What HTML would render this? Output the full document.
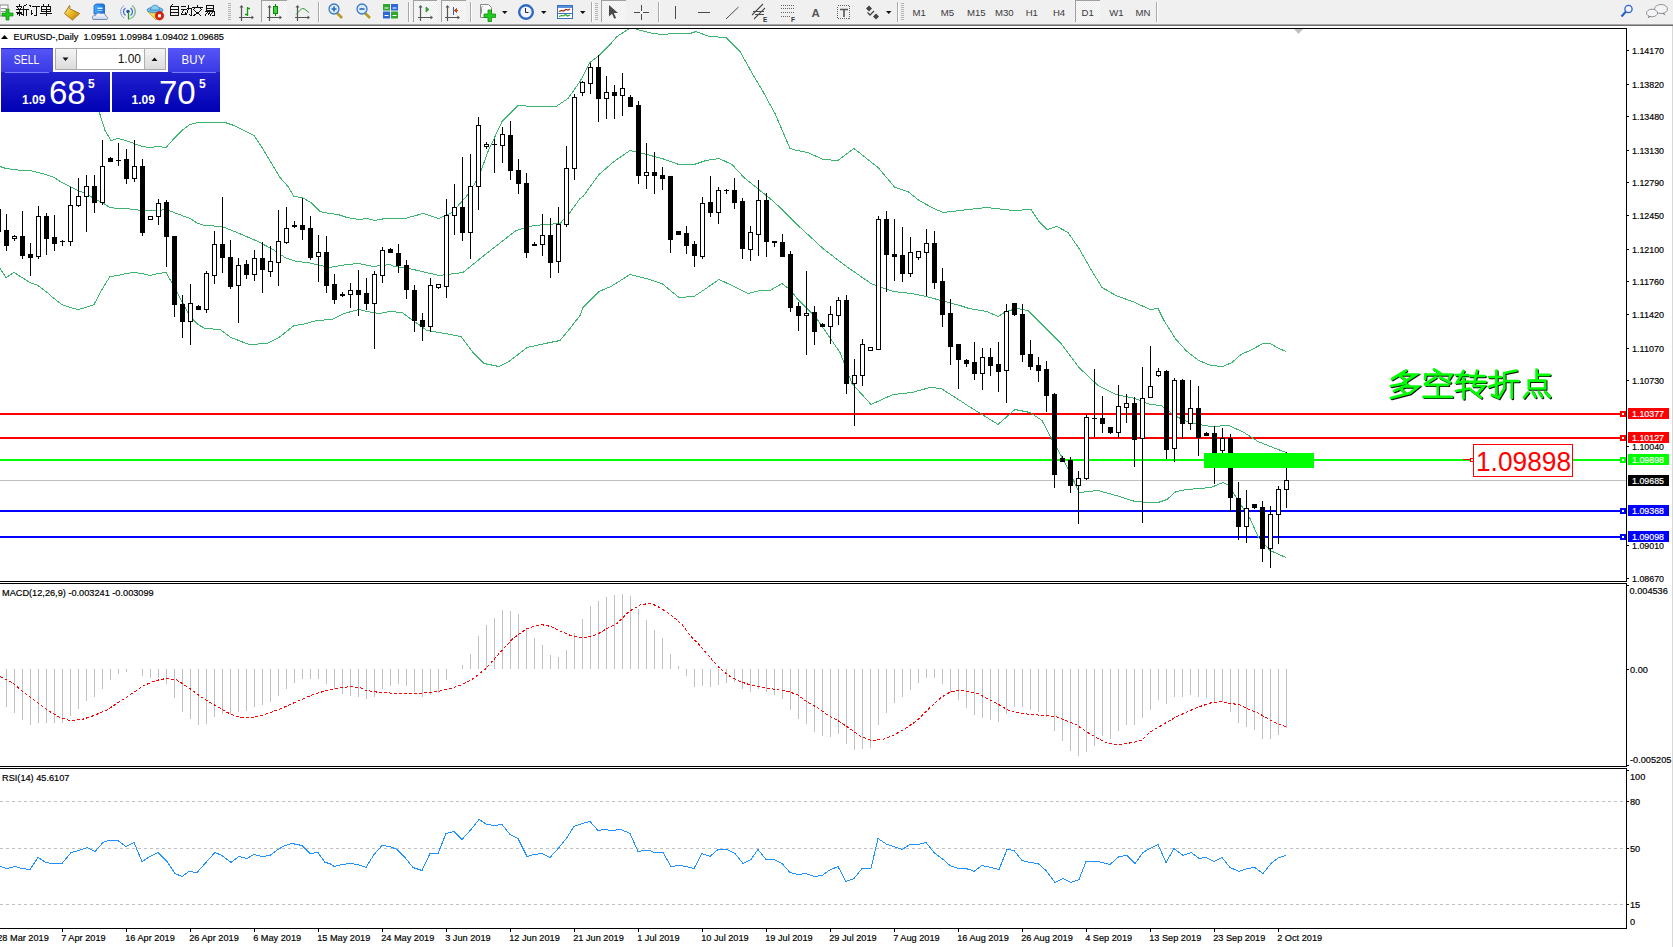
<!DOCTYPE html><html><head><meta charset="utf-8"><title>MT4 EURUSD Daily</title><style>html,body{margin:0;padding:0;background:#fff;overflow:hidden;width:1673px;height:947px}svg{display:block}text[font-size="9.2"]{stroke:currentColor;stroke-width:0.18px}</style></head><body><svg width="1673" height="947" viewBox="0 0 1673 947">
<defs><clipPath id="cm"><rect x="0" y="29" width="1626" height="552"/></clipPath><clipPath id="cd"><rect x="0" y="584" width="1626" height="182"/></clipPath><clipPath id="cr"><rect x="0" y="769" width="1626" height="159"/></clipPath><linearGradient id="gsell" x1="0" y1="0" x2="0" y2="1"><stop offset="0" stop-color="#5555f6"/><stop offset="1" stop-color="#3a3ae6"/></linearGradient><linearGradient id="gbody" x1="0" y1="0" x2="0" y2="1"><stop offset="0" stop-color="#3535e0"/><stop offset="1" stop-color="#0000b4"/></linearGradient><linearGradient id="gbtn" x1="0" y1="0" x2="0" y2="1"><stop offset="0" stop-color="#f4f4f4"/><stop offset="1" stop-color="#dcdcdc"/></linearGradient><pattern id="chk" width="2" height="2" patternUnits="userSpaceOnUse"><rect width="2" height="2" fill="#fbfbfb"/><rect width="1" height="1" fill="#ececec"/><rect x="1" y="1" width="1" height="1" fill="#ececec"/></pattern></defs>
<rect x="0" y="0" width="1673" height="947" fill="#ffffff"/>
<g id="toolbar">
<rect x="0" y="0" width="1673" height="24" fill="#f0f0f0"/>
<rect x="0" y="24" width="1673" height="1" fill="#a5a5a5"/>
<rect x="0" y="25" width="1673" height="1" fill="#6e6e6e"/>
<rect x="0" y="5" width="8" height="11" fill="#ffffff" stroke="#8a8a8a" stroke-width="1"/>
<rect x="1" y="8" width="5" height="1" fill="#9a9a9a"/><rect x="1" y="11" width="5" height="1" fill="#9a9a9a"/>
<path d="M6 9h3v4h4v3h-4v4h-3v-4h-4v-3h4z" fill="#1ec81e" stroke="#0a8a0a" stroke-width="0.7"/>
<path d="M19.5 4v2M16 6.5h6M17.5 7.5l1 1.5M21.5 7.5l-1 1.5M15.5 9.5h7M19.5 9.5v6.5M16 12.5h6M18.5 13l-2 2.5M20.5 13l2 2M27 4.5l-4 2v9.5M23 9.5h5.5M26.5 9.5v6.5" fill="none" stroke="#111" stroke-width="1" shape-rendering="crispEdges"/>
<path d="M29.5 5l1.5 1.5M31 9.5v5.5l1.5-1.5M32 6.5h7.5M36.5 6.5v9h-2.5" fill="none" stroke="#111" stroke-width="1" shape-rendering="crispEdges"/>
<path d="M43 4l1 1.5M49 4l-1 1.5M41.5 6.5h9v5h-9zM41.5 9h9M46 6.5v9.5M40 13.5h12" fill="none" stroke="#111" stroke-width="1" shape-rendering="crispEdges"/>
<defs><linearGradient id="ggold" x1="0" y1="0" x2="1" y2="1"><stop offset="0" stop-color="#fff0a0"/><stop offset="0.5" stop-color="#e8b820"/><stop offset="1" stop-color="#b07010"/></linearGradient><linearGradient id="gcloud" x1="0" y1="0" x2="0" y2="1"><stop offset="0" stop-color="#ffffff"/><stop offset="1" stop-color="#c8d4e8"/></linearGradient><linearGradient id="gdoc" x1="0" y1="0" x2="1" y2="0"><stop offset="0" stop-color="#40a8ff"/><stop offset="1" stop-color="#1a70e0"/></linearGradient></defs>
<path d="M69.5 5.5c1 1.5 0 3 0 3l10 5-7 6.5-8-6.5z" fill="url(#ggold)" stroke="#9a6a10" stroke-width="0.9"/>
<path d="M65.5 14.5l7 5.5 7-6" fill="none" stroke="#c89a40" stroke-width="1"/>
<path d="M94 5.5l2-1.5h7.5l1 1v9h-10.5z" fill="url(#gdoc)" stroke="#1a5ab8" stroke-width="0.8"/>
<rect x="97.5" y="7.5" width="5" height="1.5" fill="#e0f0ff"/><rect x="97.5" y="10" width="5" height="1" fill="#9ad0ff"/>
<path d="M93 19.5c-1.5-2.5 0-4.5 2.5-4 0.5-2.5 4-3.5 5.5-1.5 1.5-1.5 4.5-0.5 4.5 2 2 0 3 2.5 1.5 3.5z" fill="url(#gcloud)" stroke="#6a84b0" stroke-width="0.9"/>
<path d="M124 5.5a7.5 7.5 0 0 0 0 12.5M132 5.5a7.5 7.5 0 0 1 0 12.5" fill="none" stroke="#7a9ad8" stroke-width="1"/>
<path d="M125.5 8a4.5 4.5 0 0 0 0 7.5M130.5 8a4.5 4.5 0 0 1 0 7.5" fill="none" stroke="#3a6ad0" stroke-width="1.2"/>
<path d="M132 5.5a7.5 7.5 0 0 1 -3.5 13.5" fill="none" stroke="#8ac08a" stroke-width="1.4" opacity="0.8"/>
<circle cx="128" cy="11.5" r="1.7" fill="#1a48c0"/>
<path d="M128.5 12v7.5" stroke="#20a020" stroke-width="1.3"/>
<path d="M147.5 11.5h15l-6.5 8.5z" fill="#f4dc50" stroke="#c8a030" stroke-width="0.8"/>
<ellipse cx="155" cy="10" rx="8" ry="2.8" fill="#70b8e8" stroke="#3a88b8" stroke-width="0.8"/>
<path d="M150.5 10c0-6.5 9-6.5 9 0z" fill="#8ccff4" stroke="#3a88b8" stroke-width="0.8"/>
<circle cx="159.5" cy="15.8" r="4.2" fill="#e02010" stroke="#a01008" stroke-width="0.6"/><rect x="158" y="14.3" width="3" height="3" fill="#ffffff"/>
<path d="M172.5 4l-1 2M170.5 6.5h8v9h-8zM170.5 9.5h8M170.5 12.5h8" fill="none" stroke="#111" stroke-width="1" shape-rendering="crispEdges"/>
<path d="M181 6.5h5M180.5 9.5h6M183.5 9.5l-2 5h5M185 12l1 2M186.5 8.5h4.5v7l-1.5-1M188.5 5v3.5l-1 4-3 3" fill="none" stroke="#111" stroke-width="1" shape-rendering="crispEdges"/>
<path d="M197.5 4.5v2M192 7.5h11M194.5 8.5l-2 2M200.5 8.5l2 2M194 10.5l7 5M201 10.5l-8 5.5" fill="none" stroke="#111" stroke-width="1" shape-rendering="crispEdges"/>
<path d="M206.5 5.5h7v5h-7zM206.5 8h7M205 11.5h9.5l-0.5 4.5-1.5-1M207.5 12l-2.5 3.5M210 12l-2.5 3.5M212.5 12l-2.5 3.5" fill="none" stroke="#111" stroke-width="1" shape-rendering="crispEdges"/>
<rect x="228" y="3" width="3" height="1" fill="#b4b4b4"/>
<rect x="228" y="5" width="3" height="1" fill="#b4b4b4"/>
<rect x="228" y="7" width="3" height="1" fill="#b4b4b4"/>
<rect x="228" y="9" width="3" height="1" fill="#b4b4b4"/>
<rect x="228" y="11" width="3" height="1" fill="#b4b4b4"/>
<rect x="228" y="13" width="3" height="1" fill="#b4b4b4"/>
<rect x="228" y="15" width="3" height="1" fill="#b4b4b4"/>
<rect x="228" y="17" width="3" height="1" fill="#b4b4b4"/>
<rect x="228" y="19" width="3" height="1" fill="#b4b4b4"/>
<path d="M241.5 6v15M239 17.5h14" stroke="#555" stroke-width="1.2" fill="none"/>
<path d="M241.5 5l-2 2.5h4z M254 17.5l-2.5-2v4z" fill="#555"/>
<path d="M247.5 7v9M247.5 8.5h2.5M245 14.5h2.5" stroke="#10a010" stroke-width="1.3" fill="none"/>
<rect x="261" y="0" width="26" height="22" fill="url(#chk)"/>
<rect x="261" y="0" width="26" height="1" fill="#a0a0a0"/><rect x="261" y="0" width="1" height="22" fill="#a0a0a0"/>
<path d="M269.5 6v15M267 17.5h14" stroke="#555" stroke-width="1.2" fill="none"/>
<path d="M269.5 5l-2 2.5h4z M282 17.5l-2.5-2v4z" fill="#555"/>
<rect x="273.5" y="6.5" width="4" height="7" fill="#40d040" stroke="#0a8a0a" stroke-width="1"/><path d="M275.5 4v2.5M275.5 13.5v2.5" stroke="#0a8a0a" stroke-width="1"/>
<path d="M297.5 6v15M295 17.5h14" stroke="#555" stroke-width="1.2" fill="none"/>
<path d="M297.5 5l-2 2.5h4z M310 17.5l-2.5-2v4z" fill="#555"/>
<path d="M296 14.5c3-3 5-6 7-6s4 3 6 4" fill="none" stroke="#2a9a2a" stroke-width="1"/>
<rect x="318" y="2" width="1" height="20" fill="#a8a8a8"/><rect x="319" y="2" width="1" height="20" fill="#ffffff"/>
<line x1="337" y1="13" x2="342" y2="18" stroke="#b89a20" stroke-width="2.6"/>
<circle cx="334" cy="9" r="5" fill="#d8ecfc" stroke="#3a78c8" stroke-width="1.3"/>
<path d="M331.5 9h5M334 6.5v5" stroke="#2a68b8" stroke-width="1.6"/>
<line x1="365" y1="13" x2="370" y2="18" stroke="#b89a20" stroke-width="2.6"/>
<circle cx="362" cy="9" r="5" fill="#d8ecfc" stroke="#3a78c8" stroke-width="1.3"/>
<path d="M359.5 9h5" stroke="#2a68b8" stroke-width="1.6"/>
<rect x="383" y="4" width="7" height="6.5" fill="#30a830"/><rect x="391" y="4" width="7" height="6.5" fill="#3068d8"/><rect x="383" y="11.5" width="7" height="7" fill="#3068d8"/><rect x="391" y="11.5" width="7" height="7" fill="#30a830"/>
<path d="M384.5 8h4M392.5 8h4M384.5 15.5h4M392.5 15.5h4" stroke="#ffffff" stroke-width="1"/>
<rect x="408" y="2" width="1" height="20" fill="#a8a8a8"/><rect x="409" y="2" width="1" height="20" fill="#ffffff"/>
<rect x="413" y="0" width="24" height="22" fill="url(#chk)"/>
<rect x="413" y="0" width="24" height="1" fill="#a0a0a0"/><rect x="413" y="0" width="1" height="22" fill="#a0a0a0"/>
<path d="M420.5 6v15M418 17.5h14" stroke="#555" stroke-width="1.2" fill="none"/>
<path d="M420.5 5l-2 2.5h4z M433 17.5l-2.5-2v4z" fill="#555"/>
<path d="M426 7v5l3-2.5z" fill="#30b030" stroke="#10801a" stroke-width="0.6"/>
<rect x="441" y="0" width="25" height="22" fill="url(#chk)"/>
<rect x="441" y="0" width="25" height="1" fill="#a0a0a0"/><rect x="441" y="0" width="1" height="22" fill="#a0a0a0"/>
<path d="M447.5 6v15M445 17.5h14" stroke="#555" stroke-width="1.2" fill="none"/><path d="M447.5 5l-2 2.5h4z M460 17.5l-2.5-2v4z" fill="#555"/>
<path d="M453.5 7v8" stroke="#3060c0" stroke-width="1"/><path d="M454 10.5h4M454.5 10.5l2-2v4z" stroke="#d04010" stroke-width="1" fill="#d04010"/>
<rect x="470" y="2" width="1" height="20" fill="#a8a8a8"/><rect x="471" y="2" width="1" height="20" fill="#ffffff"/>
<path d="M480.5 4.5h8l3 3v10h-11z" fill="#fafafa" stroke="#8a8a8a" stroke-width="1"/>
<path d="M482.5 6.5c-1 0-1 1-1 2v5" fill="none" stroke="#777" stroke-width="0.8"/>
<path d="M488 10h3.5v4h4v3.5h-4v4h-3.5v-4h-4v-3.5h4z" fill="#22cc22" stroke="#0a900a" stroke-width="0.8"/>
<path d="M502 11h5.5l-2.75 3z" fill="#111"/>
<circle cx="526" cy="12" r="7.6" fill="#2a6ad0" stroke="#1a4a9a" stroke-width="0.6"/><circle cx="526" cy="12" r="5.6" fill="#f2f6fc"/><path d="M525.5 8v4.5h3" stroke="#222" stroke-width="1" fill="none"/>
<path d="M541 11h5.5l-2.75 3z" fill="#111"/>
<rect x="557.5" y="5.5" width="15" height="13" fill="#ffffff" stroke="#3a70c0" stroke-width="1"/><rect x="558" y="6" width="14" height="2" fill="#5a90e0"/><rect x="558" y="13" width="14" height="1" fill="#3a70c0"/>
<path d="M559 11.5l2.5-1 2 0.5 2.5-1.5 2 0.5 2-1" fill="none" stroke="#a02a10" stroke-width="1.2"/><path d="M559 16.5l2.5-1 2 0.5 2-1.5 2 1.5 2.5-1" fill="none" stroke="#20a020" stroke-width="1.1"/>
<path d="M580 11h5.5l-2.75 3z" fill="#111"/>
<rect x="591" y="2" width="1" height="20" fill="#a8a8a8"/><rect x="592" y="2" width="1" height="20" fill="#ffffff"/>
<rect x="595" y="3" width="3" height="1" fill="#b4b4b4"/>
<rect x="595" y="5" width="3" height="1" fill="#b4b4b4"/>
<rect x="595" y="7" width="3" height="1" fill="#b4b4b4"/>
<rect x="595" y="9" width="3" height="1" fill="#b4b4b4"/>
<rect x="595" y="11" width="3" height="1" fill="#b4b4b4"/>
<rect x="595" y="13" width="3" height="1" fill="#b4b4b4"/>
<rect x="595" y="15" width="3" height="1" fill="#b4b4b4"/>
<rect x="595" y="17" width="3" height="1" fill="#b4b4b4"/>
<rect x="595" y="19" width="3" height="1" fill="#b4b4b4"/>
<rect x="601" y="0" width="25" height="22" fill="url(#chk)"/>
<rect x="601" y="0" width="25" height="1" fill="#a0a0a0"/><rect x="601" y="0" width="1" height="22" fill="#a0a0a0"/>
<path d="M609 5v11.5l3-2.8 2.3 5 1.8-0.8-2.3-4.9h4.2z" fill="#4a4a4a"/>
<path d="M641.5 5v6M641.5 14v6M634 12.5h6M643 12.5h6" stroke="#4a4a4a" stroke-width="1" shape-rendering="crispEdges"/>
<rect x="658" y="2" width="1" height="20" fill="#a8a8a8"/><rect x="659" y="2" width="1" height="20" fill="#ffffff"/>
<rect x="675" y="6" width="1" height="13" fill="#4a4a4a"/>
<rect x="698" y="12" width="12" height="1" fill="#4a4a4a"/>
<path d="M726 19l12.5-12" stroke="#4a4a4a" stroke-width="1"/>
<path d="M752 15l11-11M754 19l11-11M753 11.5h11M755 14.5h9" stroke="#4a4a4a" stroke-width="1.1" fill="none"/><text x="763" y="21.5" font-family="Liberation Sans, sans-serif" font-size="6.5" font-weight="bold" fill="#333">E</text>
<path d="M781 5.5h13M781 8.5h13M781 12h13M781 16.5h9" stroke="#666" stroke-width="1" stroke-dasharray="1 1" fill="none" shape-rendering="crispEdges"/><text x="791" y="21.5" font-family="Liberation Sans, sans-serif" font-size="6.5" font-weight="bold" fill="#333">F</text>
<text x="811.5" y="17" font-family="Liberation Sans, sans-serif" font-size="11.5" font-weight="bold" fill="#555">A</text>
<rect x="837.5" y="5.5" width="12" height="13" fill="none" stroke="#666" stroke-width="1" stroke-dasharray="1 1" shape-rendering="crispEdges"/><path d="M840 9.5h8M844 9.5v7.5" stroke="#555" stroke-width="1.6" fill="none"/>
<path d="M866 8.5l3-3 3 3-3 3zM873 16.5l3-3 3 3-3 3z" fill="#444"/><path d="M867.5 12.5l2.5 2.5 4-4" stroke="#444" stroke-width="1.3" fill="none"/>
<path d="M886 11h5.5l-2.75 3z" fill="#111"/>
<rect x="897" y="2" width="1" height="20" fill="#a8a8a8"/><rect x="898" y="2" width="1" height="20" fill="#ffffff"/>
<rect x="901" y="3" width="3" height="1" fill="#b4b4b4"/>
<rect x="901" y="5" width="3" height="1" fill="#b4b4b4"/>
<rect x="901" y="7" width="3" height="1" fill="#b4b4b4"/>
<rect x="901" y="9" width="3" height="1" fill="#b4b4b4"/>
<rect x="901" y="11" width="3" height="1" fill="#b4b4b4"/>
<rect x="901" y="13" width="3" height="1" fill="#b4b4b4"/>
<rect x="901" y="15" width="3" height="1" fill="#b4b4b4"/>
<rect x="901" y="17" width="3" height="1" fill="#b4b4b4"/>
<rect x="901" y="19" width="3" height="1" fill="#b4b4b4"/>
<rect x="1075" y="0" width="25" height="22" fill="url(#chk)"/>
<rect x="1075" y="0" width="25" height="1" fill="#a0a0a0"/><rect x="1075" y="0" width="1" height="22" fill="#a0a0a0"/>
<text x="912.4" y="16" font-family="Liberation Sans, sans-serif" font-size="9.6" fill="#3a3a3a">M1</text>
<text x="940.7" y="16" font-family="Liberation Sans, sans-serif" font-size="9.6" fill="#3a3a3a">M5</text>
<text x="966.9" y="16" font-family="Liberation Sans, sans-serif" font-size="9.6" fill="#3a3a3a">M15</text>
<text x="994.9" y="16" font-family="Liberation Sans, sans-serif" font-size="9.6" fill="#3a3a3a">M30</text>
<text x="1025.7" y="16" font-family="Liberation Sans, sans-serif" font-size="9.6" fill="#3a3a3a">H1</text>
<text x="1052.9" y="16" font-family="Liberation Sans, sans-serif" font-size="9.6" fill="#3a3a3a">H4</text>
<text x="1081.6" y="16" font-family="Liberation Sans, sans-serif" font-size="9.6" fill="#3a3a3a">D1</text>
<text x="1109.2" y="16" font-family="Liberation Sans, sans-serif" font-size="9.6" fill="#3a3a3a">W1</text>
<text x="1135.6" y="16" font-family="Liberation Sans, sans-serif" font-size="9.6" fill="#3a3a3a">MN</text>
<rect x="1156" y="2" width="1" height="20" fill="#a8a8a8"/><rect x="1157" y="2" width="1" height="20" fill="#ffffff"/>
<circle cx="1628.5" cy="9" r="3.6" fill="#f4f4ff" stroke="#2a60d0" stroke-width="1.3"/><path d="M1626 11.5l-4.5 5" stroke="#2a60d0" stroke-width="2.2"/>
<ellipse cx="1661" cy="9" rx="6.5" ry="4.5" fill="#f4f4f8" stroke="#888" stroke-width="0.9"/><path d="M1664 13l1.5 2.5-3-2" fill="#666"/>
<ellipse cx="1652" cy="13" rx="5.5" ry="3.8" fill="#f4f4f8" stroke="#888" stroke-width="0.9"/><path d="M1649 16l-1.5 2.5 3-2" fill="#666"/>
</g>
<g shape-rendering="crispEdges">
<rect x="0" y="28" width="1627" height="1" fill="#000"/>
<rect x="1626" y="28" width="1" height="554" fill="#000"/>
<rect x="0" y="581" width="1627" height="1" fill="#000"/>
<rect x="0" y="583" width="1627" height="1" fill="#000"/>
<rect x="1626" y="583" width="1" height="184" fill="#000"/>
<rect x="0" y="766" width="1627" height="1" fill="#000"/>
<rect x="0" y="768" width="1627" height="1" fill="#000"/>
<rect x="1626" y="768" width="1" height="161" fill="#000"/>
<rect x="0" y="928" width="1627" height="1" fill="#000"/>
<rect x="1672" y="26" width="1" height="921" fill="#d8d8d8"/>
</g>
<g clip-path="url(#cm)">
<g shape-rendering="crispEdges">
<rect x="0" y="480" width="1626" height="1" fill="#c0c0c0"/>
<rect x="0" y="413" width="1621" height="2" fill="#ff0000"/>
<rect x="1620" y="411" width="6" height="6" fill="#ff0000"/><rect x="1622" y="413" width="2" height="2" fill="#fff"/>
<rect x="0" y="437" width="1621" height="2" fill="#ff0000"/>
<rect x="1620" y="435" width="6" height="6" fill="#ff0000"/><rect x="1622" y="437" width="2" height="2" fill="#fff"/>
<rect x="0" y="459" width="1621" height="2" fill="#00ff00"/>
<rect x="1620" y="457" width="6" height="6" fill="#00ff00"/><rect x="1622" y="459" width="2" height="2" fill="#fff"/>
<rect x="0" y="510" width="1621" height="2" fill="#0000ff"/>
<rect x="1620" y="508" width="6" height="6" fill="#0000ff"/><rect x="1622" y="510" width="2" height="2" fill="#fff"/>
<rect x="0" y="536" width="1621" height="2" fill="#0000ff"/>
<rect x="1620" y="534" width="6" height="6" fill="#0000ff"/><rect x="1622" y="536" width="2" height="2" fill="#fff"/>
</g>
<polyline points="96,100.5 100,114.5 105,130.5 111,140.5 118,138.5 126,140.5 134,143.5 142,146.5 150,147.5 158,146.5 166,147.5 174,138.5 182,130.5 190,124.5 198,122.5 225,122.5 234,125.5 254,135.5 262,147.5 271,162.5 280,177.5 288,186.5 294,196.5 302,197.5 311,202.5 320,211.5 329,213.5 338,214.5 347,217.5 359,219.5 367,218.5 375,220.5 385,218.5 390,218.5 405,218.5 423,213.5 439,218.5 452,212.5 468,194.5 479,176.5 488,151.5 502,121.5 518,105.5 534,106.5 556,106.5 568,98.5 580,81.5 590,62.5 598,56.5 611,43.5 617,36.5 628,29.5 632,27.5 637,29.5 645,31.5 653,33.5 662,34.5 674,33.5 690,33.5 696,31.5 709,36.5 726,37.5 740,51.5 754,76.5 763,91.5 770,104.5 775,113.5 790,148.5 797,150.5 808,152.5 823,159.5 838,160.5 854,148.5 878,167.5 895,187.5 908,191.5 919,200.5 934,208.5 943,212.5 960,210.5 987,207.5 1013,210.5 1031,209.5 1039,221.5 1047,229.5 1057,226.5 1068,232.5 1079,248.5 1091,269.5 1102,287.5 1116,295.5 1135,302.5 1150,309.5 1158,308.5 1164,320.5 1176,339.5 1187,351.5 1199,360.5 1211,365.5 1223,366.5 1232,362.5 1241,354.5 1252,349.5 1263,343.5 1270,343.5 1279,348.5 1286,351.5" fill="none" stroke="#3cb371" stroke-width="1" shape-rendering="crispEdges"/>
<polyline points="0,166.5 6,168.5 14,169.5 22,170.5 30,170.5 38,172.5 46,174.5 54,177.5 62,182.5 70,186.5 78,190.5 86,193.5 94,198.5 102,202.5 110,207.5 118,208.5 126,208.5 134,209.5 142,210.5 150,210.5 158,210.5 166,209.5 174,212.5 182,215.5 190,218.5 198,223.5 205,225.5 222,226.5 237,232.5 258,241.5 273,249.5 285,257.5 296,261.5 308,262.5 329,267.5 347,264.5 359,263.5 373,266.5 390,264.5 394,266.5 409,268.5 439,275.5 463,272.5 484,255.5 516,230.5 534,225.5 560,223.5 570,212.5 580,198.5 583,196.5 599,174.5 614,161.5 630,150.5 643,153.5 662,158.5 679,164.5 694,164.5 706,160.5 719,158.5 732,164.5 744,177.5 760,190.5 770,198.5 779,206.5 797,224.5 823,248.5 845,265.5 871,283.5 893,291.5 912,293.5 926,296.5 945,301.5 960,305.5 969,308.5 987,311.5 998,316.5 1006,311.5 1017,308.5 1028,310.5 1042,324.5 1061,343.5 1079,367.5 1098,385.5 1116,394.5 1135,398.5 1150,404.5 1161,405.5 1173,414.5 1184,420.5 1199,424.5 1211,426.5 1229,425.5 1244,432.5 1258,441.5 1273,447.5 1286,452.5" fill="none" stroke="#3cb371" stroke-width="1" shape-rendering="crispEdges"/>
<polyline points="0,268.5 6,277.5 14,272.5 22,277.5 30,282.5 38,285.5 46,291.5 54,298.5 62,304.5 70,307.5 78,309.5 86,307.5 94,304.5 102,289.5 110,276.5 118,275.5 126,273.5 134,272.5 142,273.5 150,275.5 158,273.5 166,272.5 174,286.5 182,301.5 190,316.5 198,324.5 205,328.5 220,329.5 231,337.5 249,344.5 267,343.5 279,337.5 294,325.5 302,324.5 317,320.5 332,319.5 344,313.5 359,309.5 367,311.5 379,313.5 390,311.5 402,312.5 427,330.5 445,333.5 461,336.5 473,352.5 484,363.5 499,366.5 509,361.5 527,347.5 545,343.5 560,340.5 570,328.5 580,315.5 583,307.5 599,291.5 611,286.5 630,274.5 646,278.5 662,283.5 679,297.5 694,296.5 706,288.5 719,279.5 732,285.5 748,293.5 760,290.5 770,290.5 782,283.5 790,289.5 797,298.5 816,317.5 840,352.5 852,383.5 871,404.5 893,394.5 912,392.5 930,387.5 941,388.5 960,400.5 969,406.5 987,417.5 998,424.5 1015,409.5 1030,412.5 1042,420.5 1052,439.5 1061,455.5 1070,472.5 1079,492.5 1098,490.5 1116,495.5 1135,501.5 1150,502.5 1158,502.5 1167,499.5 1176,491.5 1187,489.5 1199,488.5 1211,487.5 1223,482.5 1229,485.5 1238,500.5 1250,518.5 1258,536.5 1270,550.5 1286,557.5" fill="none" stroke="#3cb371" stroke-width="1" shape-rendering="crispEdges"/>
<g shape-rendering="crispEdges">
<rect x="-2" y="209" width="1" height="23" fill="#000"/>
<rect x="-4" y="209" width="5" height="23" fill="#000"/>
<rect x="6" y="214" width="1" height="37" fill="#000"/>
<rect x="4" y="230" width="5" height="16" fill="#000"/>
<rect x="14" y="235" width="1" height="6" fill="#000"/>
<rect x="12.5" y="236.5" width="4" height="2" fill="#fff" stroke="#000" stroke-width="1"/>
<rect x="22" y="211" width="1" height="48" fill="#000"/>
<rect x="20" y="236" width="5" height="20" fill="#000"/>
<rect x="30" y="243" width="1" height="33" fill="#000"/>
<rect x="28" y="254" width="5" height="4" fill="#000"/>
<rect x="38" y="206" width="1" height="53" fill="#000"/>
<rect x="36.5" y="216.5" width="4" height="40" fill="#fff" stroke="#000" stroke-width="1"/>
<rect x="46" y="213" width="1" height="42" fill="#000"/>
<rect x="44" y="216" width="5" height="23" fill="#000"/>
<rect x="54" y="215" width="1" height="36" fill="#000"/>
<rect x="52" y="237" width="5" height="7" fill="#000"/>
<rect x="62" y="240" width="1" height="6" fill="#000"/>
<rect x="60" y="241" width="5" height="1" fill="#000"/>
<rect x="70" y="187" width="1" height="59" fill="#000"/>
<rect x="68.5" y="205.5" width="4" height="36" fill="#fff" stroke="#000" stroke-width="1"/>
<rect x="78" y="178" width="1" height="29" fill="#000"/>
<rect x="76.5" y="196.5" width="4" height="9" fill="#fff" stroke="#000" stroke-width="1"/>
<rect x="86" y="175" width="1" height="57" fill="#000"/>
<rect x="84.5" y="186.5" width="4" height="10" fill="#fff" stroke="#000" stroke-width="1"/>
<rect x="94" y="175" width="1" height="38" fill="#000"/>
<rect x="92" y="186" width="5" height="17" fill="#000"/>
<rect x="102" y="140" width="1" height="65" fill="#000"/>
<rect x="100.5" y="166.5" width="4" height="36" fill="#fff" stroke="#000" stroke-width="1"/>
<rect x="110" y="157" width="1" height="5" fill="#000"/>
<rect x="108" y="158" width="5" height="4" fill="#000"/>
<rect x="118" y="143" width="1" height="23" fill="#000"/>
<rect x="116" y="160" width="5" height="1" fill="#000"/>
<rect x="126" y="149" width="1" height="35" fill="#000"/>
<rect x="124" y="159" width="5" height="20" fill="#000"/>
<rect x="134" y="140" width="1" height="42" fill="#000"/>
<rect x="132.5" y="166.5" width="4" height="12" fill="#fff" stroke="#000" stroke-width="1"/>
<rect x="142" y="159" width="1" height="77" fill="#000"/>
<rect x="140" y="166" width="5" height="67" fill="#000"/>
<rect x="150" y="216" width="1" height="4" fill="#000"/>
<rect x="148.5" y="216.5" width="4" height="3" fill="#fff" stroke="#000" stroke-width="1"/>
<rect x="158" y="199" width="1" height="26" fill="#000"/>
<rect x="156.5" y="203.5" width="4" height="13" fill="#fff" stroke="#000" stroke-width="1"/>
<rect x="166" y="200" width="1" height="67" fill="#000"/>
<rect x="164" y="202" width="5" height="35" fill="#000"/>
<rect x="174" y="236" width="1" height="81" fill="#000"/>
<rect x="172" y="236" width="5" height="69" fill="#000"/>
<rect x="182" y="295" width="1" height="43" fill="#000"/>
<rect x="180" y="304" width="5" height="18" fill="#000"/>
<rect x="190" y="284" width="1" height="61" fill="#000"/>
<rect x="188.5" y="303.5" width="4" height="18" fill="#fff" stroke="#000" stroke-width="1"/>
<rect x="198" y="305" width="1" height="5" fill="#000"/>
<rect x="196" y="306" width="5" height="4" fill="#000"/>
<rect x="206" y="271" width="1" height="42" fill="#000"/>
<rect x="204.5" y="273.5" width="4" height="36" fill="#fff" stroke="#000" stroke-width="1"/>
<rect x="214" y="231" width="1" height="53" fill="#000"/>
<rect x="212.5" y="244.5" width="4" height="31" fill="#fff" stroke="#000" stroke-width="1"/>
<rect x="222" y="197" width="1" height="76" fill="#000"/>
<rect x="220" y="244" width="5" height="14" fill="#000"/>
<rect x="230" y="240" width="1" height="49" fill="#000"/>
<rect x="228" y="257" width="5" height="30" fill="#000"/>
<rect x="238" y="258" width="1" height="65" fill="#000"/>
<rect x="236.5" y="265.5" width="4" height="20" fill="#fff" stroke="#000" stroke-width="1"/>
<rect x="246" y="260" width="1" height="19" fill="#000"/>
<rect x="244" y="264" width="5" height="11" fill="#000"/>
<rect x="254" y="250" width="1" height="31" fill="#000"/>
<rect x="252.5" y="258.5" width="4" height="16" fill="#fff" stroke="#000" stroke-width="1"/>
<rect x="262" y="242" width="1" height="51" fill="#000"/>
<rect x="260" y="258" width="5" height="12" fill="#000"/>
<rect x="270" y="246" width="1" height="31" fill="#000"/>
<rect x="268.5" y="261.5" width="4" height="10" fill="#fff" stroke="#000" stroke-width="1"/>
<rect x="278" y="210" width="1" height="76" fill="#000"/>
<rect x="276.5" y="241.5" width="4" height="21" fill="#fff" stroke="#000" stroke-width="1"/>
<rect x="286" y="207" width="1" height="37" fill="#000"/>
<rect x="284.5" y="228.5" width="4" height="14" fill="#fff" stroke="#000" stroke-width="1"/>
<rect x="294" y="221" width="1" height="7" fill="#000"/>
<rect x="292" y="225" width="5" height="2" fill="#000"/>
<rect x="302" y="198" width="1" height="42" fill="#000"/>
<rect x="300" y="225" width="5" height="5" fill="#000"/>
<rect x="310" y="216" width="1" height="44" fill="#000"/>
<rect x="308" y="228" width="5" height="30" fill="#000"/>
<rect x="318" y="235" width="1" height="47" fill="#000"/>
<rect x="316.5" y="252.5" width="4" height="4" fill="#fff" stroke="#000" stroke-width="1"/>
<rect x="326" y="236" width="1" height="57" fill="#000"/>
<rect x="324" y="252" width="5" height="34" fill="#000"/>
<rect x="334" y="274" width="1" height="30" fill="#000"/>
<rect x="332" y="284" width="5" height="16" fill="#000"/>
<rect x="342" y="292" width="1" height="5" fill="#000"/>
<rect x="340" y="294" width="5" height="2" fill="#000"/>
<rect x="350" y="283" width="1" height="25" fill="#000"/>
<rect x="348.5" y="290.5" width="4" height="4" fill="#fff" stroke="#000" stroke-width="1"/>
<rect x="358" y="270" width="1" height="46" fill="#000"/>
<rect x="356" y="290" width="5" height="5" fill="#000"/>
<rect x="366" y="278" width="1" height="32" fill="#000"/>
<rect x="364" y="293" width="5" height="11" fill="#000"/>
<rect x="374" y="271" width="1" height="78" fill="#000"/>
<rect x="372.5" y="274.5" width="4" height="29" fill="#fff" stroke="#000" stroke-width="1"/>
<rect x="382" y="247" width="1" height="36" fill="#000"/>
<rect x="380.5" y="250.5" width="4" height="25" fill="#fff" stroke="#000" stroke-width="1"/>
<rect x="390" y="248" width="1" height="5" fill="#000"/>
<rect x="388" y="249" width="5" height="4" fill="#000"/>
<rect x="398" y="244" width="1" height="29" fill="#000"/>
<rect x="396" y="253" width="5" height="13" fill="#000"/>
<rect x="406" y="260" width="1" height="39" fill="#000"/>
<rect x="404" y="265" width="5" height="25" fill="#000"/>
<rect x="414" y="285" width="1" height="47" fill="#000"/>
<rect x="412" y="290" width="5" height="31" fill="#000"/>
<rect x="422" y="313" width="1" height="28" fill="#000"/>
<rect x="420" y="320" width="5" height="7" fill="#000"/>
<rect x="430" y="278" width="1" height="54" fill="#000"/>
<rect x="428.5" y="285.5" width="4" height="41" fill="#fff" stroke="#000" stroke-width="1"/>
<rect x="438" y="284" width="1" height="5" fill="#000"/>
<rect x="436.5" y="284.5" width="4" height="3" fill="#fff" stroke="#000" stroke-width="1"/>
<rect x="446" y="199" width="1" height="99" fill="#000"/>
<rect x="444.5" y="215.5" width="4" height="71" fill="#fff" stroke="#000" stroke-width="1"/>
<rect x="454" y="184" width="1" height="51" fill="#000"/>
<rect x="452.5" y="207.5" width="4" height="8" fill="#fff" stroke="#000" stroke-width="1"/>
<rect x="462" y="157" width="1" height="84" fill="#000"/>
<rect x="460" y="207" width="5" height="26" fill="#000"/>
<rect x="470" y="154" width="1" height="105" fill="#000"/>
<rect x="468.5" y="186.5" width="4" height="46" fill="#fff" stroke="#000" stroke-width="1"/>
<rect x="478" y="117" width="1" height="93" fill="#000"/>
<rect x="476.5" y="125.5" width="4" height="61" fill="#fff" stroke="#000" stroke-width="1"/>
<rect x="486" y="142" width="1" height="7" fill="#000"/>
<rect x="484.5" y="144.5" width="4" height="2" fill="#fff" stroke="#000" stroke-width="1"/>
<rect x="494" y="139" width="1" height="34" fill="#000"/>
<rect x="492" y="144" width="5" height="1" fill="#000"/>
<rect x="502" y="127" width="1" height="36" fill="#000"/>
<rect x="500.5" y="134.5" width="4" height="11" fill="#fff" stroke="#000" stroke-width="1"/>
<rect x="510" y="121" width="1" height="59" fill="#000"/>
<rect x="508" y="135" width="5" height="36" fill="#000"/>
<rect x="518" y="159" width="1" height="35" fill="#000"/>
<rect x="516" y="170" width="5" height="14" fill="#000"/>
<rect x="526" y="173" width="1" height="85" fill="#000"/>
<rect x="524" y="183" width="5" height="70" fill="#000"/>
<rect x="534" y="242" width="1" height="4" fill="#000"/>
<rect x="532" y="244" width="5" height="2" fill="#000"/>
<rect x="542" y="214" width="1" height="42" fill="#000"/>
<rect x="540.5" y="235.5" width="4" height="9" fill="#fff" stroke="#000" stroke-width="1"/>
<rect x="550" y="218" width="1" height="60" fill="#000"/>
<rect x="548" y="235" width="5" height="28" fill="#000"/>
<rect x="558" y="207" width="1" height="66" fill="#000"/>
<rect x="556.5" y="224.5" width="4" height="37" fill="#fff" stroke="#000" stroke-width="1"/>
<rect x="566" y="146" width="1" height="81" fill="#000"/>
<rect x="564.5" y="168.5" width="4" height="56" fill="#fff" stroke="#000" stroke-width="1"/>
<rect x="574" y="94" width="1" height="86" fill="#000"/>
<rect x="572.5" y="97.5" width="4" height="71" fill="#fff" stroke="#000" stroke-width="1"/>
<rect x="582" y="81" width="1" height="15" fill="#000"/>
<rect x="580.5" y="82.5" width="4" height="10" fill="#fff" stroke="#000" stroke-width="1"/>
<rect x="590" y="63" width="1" height="31" fill="#000"/>
<rect x="588.5" y="67.5" width="4" height="16" fill="#fff" stroke="#000" stroke-width="1"/>
<rect x="598" y="55" width="1" height="67" fill="#000"/>
<rect x="596" y="67" width="5" height="32" fill="#000"/>
<rect x="606" y="76" width="1" height="43" fill="#000"/>
<rect x="604.5" y="92.5" width="4" height="6" fill="#fff" stroke="#000" stroke-width="1"/>
<rect x="614" y="85" width="1" height="34" fill="#000"/>
<rect x="612" y="92" width="5" height="4" fill="#000"/>
<rect x="622" y="73" width="1" height="43" fill="#000"/>
<rect x="620.5" y="88.5" width="4" height="7" fill="#fff" stroke="#000" stroke-width="1"/>
<rect x="630" y="95" width="1" height="12" fill="#000"/>
<rect x="628" y="97" width="5" height="10" fill="#000"/>
<rect x="638" y="101" width="1" height="83" fill="#000"/>
<rect x="636" y="105" width="5" height="71" fill="#000"/>
<rect x="646" y="143" width="1" height="46" fill="#000"/>
<rect x="644.5" y="172.5" width="4" height="3" fill="#fff" stroke="#000" stroke-width="1"/>
<rect x="654" y="152" width="1" height="42" fill="#000"/>
<rect x="652" y="172" width="5" height="4" fill="#000"/>
<rect x="662" y="167" width="1" height="23" fill="#000"/>
<rect x="660" y="175" width="5" height="4" fill="#000"/>
<rect x="670" y="176" width="1" height="77" fill="#000"/>
<rect x="668" y="176" width="5" height="64" fill="#000"/>
<rect x="678" y="231" width="1" height="4" fill="#000"/>
<rect x="676" y="231" width="5" height="4" fill="#000"/>
<rect x="686" y="226" width="1" height="28" fill="#000"/>
<rect x="684" y="233" width="5" height="13" fill="#000"/>
<rect x="694" y="241" width="1" height="26" fill="#000"/>
<rect x="692" y="244" width="5" height="12" fill="#000"/>
<rect x="702" y="197" width="1" height="62" fill="#000"/>
<rect x="700.5" y="203.5" width="4" height="53" fill="#fff" stroke="#000" stroke-width="1"/>
<rect x="710" y="176" width="1" height="41" fill="#000"/>
<rect x="708" y="202" width="5" height="11" fill="#000"/>
<rect x="718" y="187" width="1" height="37" fill="#000"/>
<rect x="716.5" y="190.5" width="4" height="22" fill="#fff" stroke="#000" stroke-width="1"/>
<rect x="726" y="189" width="1" height="5" fill="#000"/>
<rect x="724" y="190" width="5" height="1" fill="#000"/>
<rect x="734" y="178" width="1" height="31" fill="#000"/>
<rect x="732" y="190" width="5" height="13" fill="#000"/>
<rect x="742" y="198" width="1" height="61" fill="#000"/>
<rect x="740" y="201" width="5" height="48" fill="#000"/>
<rect x="750" y="226" width="1" height="35" fill="#000"/>
<rect x="748.5" y="232.5" width="4" height="17" fill="#fff" stroke="#000" stroke-width="1"/>
<rect x="758" y="180" width="1" height="76" fill="#000"/>
<rect x="756.5" y="200.5" width="4" height="34" fill="#fff" stroke="#000" stroke-width="1"/>
<rect x="766" y="193" width="1" height="64" fill="#000"/>
<rect x="764" y="200" width="5" height="42" fill="#000"/>
<rect x="774" y="241" width="1" height="6" fill="#000"/>
<rect x="772" y="241" width="5" height="2" fill="#000"/>
<rect x="782" y="234" width="1" height="23" fill="#000"/>
<rect x="780" y="242" width="5" height="15" fill="#000"/>
<rect x="790" y="251" width="1" height="61" fill="#000"/>
<rect x="788" y="254" width="5" height="54" fill="#000"/>
<rect x="798" y="302" width="1" height="29" fill="#000"/>
<rect x="796" y="306" width="5" height="10" fill="#000"/>
<rect x="806" y="271" width="1" height="84" fill="#000"/>
<rect x="804.5" y="313.5" width="4" height="2" fill="#fff" stroke="#000" stroke-width="1"/>
<rect x="814" y="306" width="1" height="39" fill="#000"/>
<rect x="812" y="312" width="5" height="20" fill="#000"/>
<rect x="822" y="323" width="1" height="4" fill="#000"/>
<rect x="820" y="324" width="5" height="3" fill="#000"/>
<rect x="830" y="306" width="1" height="38" fill="#000"/>
<rect x="828.5" y="314.5" width="4" height="12" fill="#fff" stroke="#000" stroke-width="1"/>
<rect x="838" y="297" width="1" height="28" fill="#000"/>
<rect x="836.5" y="300.5" width="4" height="15" fill="#fff" stroke="#000" stroke-width="1"/>
<rect x="846" y="295" width="1" height="99" fill="#000"/>
<rect x="844" y="300" width="5" height="84" fill="#000"/>
<rect x="854" y="359" width="1" height="67" fill="#000"/>
<rect x="852.5" y="375.5" width="4" height="8" fill="#fff" stroke="#000" stroke-width="1"/>
<rect x="862" y="339" width="1" height="47" fill="#000"/>
<rect x="860.5" y="344.5" width="4" height="31" fill="#fff" stroke="#000" stroke-width="1"/>
<rect x="870" y="347" width="1" height="4" fill="#000"/>
<rect x="868.5" y="347.5" width="4" height="3" fill="#fff" stroke="#000" stroke-width="1"/>
<rect x="878" y="216" width="1" height="134" fill="#000"/>
<rect x="876.5" y="219.5" width="4" height="130" fill="#fff" stroke="#000" stroke-width="1"/>
<rect x="886" y="211" width="1" height="81" fill="#000"/>
<rect x="884" y="219" width="5" height="36" fill="#000"/>
<rect x="894" y="219" width="1" height="62" fill="#000"/>
<rect x="892" y="254" width="5" height="3" fill="#000"/>
<rect x="902" y="227" width="1" height="55" fill="#000"/>
<rect x="900" y="255" width="5" height="19" fill="#000"/>
<rect x="910" y="237" width="1" height="40" fill="#000"/>
<rect x="908.5" y="252.5" width="4" height="21" fill="#fff" stroke="#000" stroke-width="1"/>
<rect x="918" y="251" width="1" height="9" fill="#000"/>
<rect x="916.5" y="251.5" width="4" height="6" fill="#fff" stroke="#000" stroke-width="1"/>
<rect x="926" y="229" width="1" height="67" fill="#000"/>
<rect x="924.5" y="243.5" width="4" height="9" fill="#fff" stroke="#000" stroke-width="1"/>
<rect x="934" y="231" width="1" height="58" fill="#000"/>
<rect x="932" y="243" width="5" height="40" fill="#000"/>
<rect x="942" y="268" width="1" height="59" fill="#000"/>
<rect x="940" y="281" width="5" height="34" fill="#000"/>
<rect x="950" y="299" width="1" height="66" fill="#000"/>
<rect x="948" y="313" width="5" height="34" fill="#000"/>
<rect x="958" y="344" width="1" height="45" fill="#000"/>
<rect x="956" y="344" width="5" height="16" fill="#000"/>
<rect x="966" y="359" width="1" height="8" fill="#000"/>
<rect x="964" y="360" width="5" height="4" fill="#000"/>
<rect x="974" y="342" width="1" height="38" fill="#000"/>
<rect x="972" y="362" width="5" height="12" fill="#000"/>
<rect x="982" y="348" width="1" height="42" fill="#000"/>
<rect x="980.5" y="357.5" width="4" height="16" fill="#fff" stroke="#000" stroke-width="1"/>
<rect x="990" y="348" width="1" height="28" fill="#000"/>
<rect x="988" y="357" width="5" height="9" fill="#000"/>
<rect x="998" y="342" width="1" height="50" fill="#000"/>
<rect x="996" y="364" width="5" height="8" fill="#000"/>
<rect x="1006" y="304" width="1" height="99" fill="#000"/>
<rect x="1004.5" y="311.5" width="4" height="59" fill="#fff" stroke="#000" stroke-width="1"/>
<rect x="1014" y="303" width="1" height="13" fill="#000"/>
<rect x="1012" y="303" width="5" height="12" fill="#000"/>
<rect x="1022" y="304" width="1" height="58" fill="#000"/>
<rect x="1020" y="314" width="5" height="41" fill="#000"/>
<rect x="1030" y="340" width="1" height="30" fill="#000"/>
<rect x="1028" y="354" width="5" height="13" fill="#000"/>
<rect x="1038" y="357" width="1" height="25" fill="#000"/>
<rect x="1036" y="365" width="5" height="6" fill="#000"/>
<rect x="1046" y="361" width="1" height="51" fill="#000"/>
<rect x="1044" y="369" width="5" height="27" fill="#000"/>
<rect x="1054" y="393" width="1" height="95" fill="#000"/>
<rect x="1052" y="394" width="5" height="81" fill="#000"/>
<rect x="1062" y="456" width="1" height="6" fill="#000"/>
<rect x="1060" y="458" width="5" height="4" fill="#000"/>
<rect x="1070" y="457" width="1" height="36" fill="#000"/>
<rect x="1068" y="460" width="5" height="26" fill="#000"/>
<rect x="1078" y="471" width="1" height="53" fill="#000"/>
<rect x="1076.5" y="478.5" width="4" height="7" fill="#fff" stroke="#000" stroke-width="1"/>
<rect x="1086" y="414" width="1" height="66" fill="#000"/>
<rect x="1084.5" y="417.5" width="4" height="61" fill="#fff" stroke="#000" stroke-width="1"/>
<rect x="1094" y="369" width="1" height="68" fill="#000"/>
<rect x="1092" y="418" width="5" height="1" fill="#000"/>
<rect x="1102" y="396" width="1" height="37" fill="#000"/>
<rect x="1100" y="418" width="5" height="6" fill="#000"/>
<rect x="1110" y="427" width="1" height="7" fill="#000"/>
<rect x="1108" y="427" width="5" height="6" fill="#000"/>
<rect x="1118" y="385" width="1" height="53" fill="#000"/>
<rect x="1116.5" y="406.5" width="4" height="26" fill="#fff" stroke="#000" stroke-width="1"/>
<rect x="1126" y="394" width="1" height="29" fill="#000"/>
<rect x="1124.5" y="403.5" width="4" height="4" fill="#fff" stroke="#000" stroke-width="1"/>
<rect x="1134" y="397" width="1" height="70" fill="#000"/>
<rect x="1132" y="403" width="5" height="37" fill="#000"/>
<rect x="1142" y="367" width="1" height="156" fill="#000"/>
<rect x="1140.5" y="398.5" width="4" height="40" fill="#fff" stroke="#000" stroke-width="1"/>
<rect x="1150" y="346" width="1" height="52" fill="#000"/>
<rect x="1148.5" y="386.5" width="4" height="11" fill="#fff" stroke="#000" stroke-width="1"/>
<rect x="1158" y="368" width="1" height="9" fill="#000"/>
<rect x="1156.5" y="371.5" width="4" height="4" fill="#fff" stroke="#000" stroke-width="1"/>
<rect x="1166" y="370" width="1" height="89" fill="#000"/>
<rect x="1164" y="371" width="5" height="79" fill="#000"/>
<rect x="1174" y="378" width="1" height="84" fill="#000"/>
<rect x="1172.5" y="380.5" width="4" height="68" fill="#fff" stroke="#000" stroke-width="1"/>
<rect x="1182" y="379" width="1" height="60" fill="#000"/>
<rect x="1180" y="380" width="5" height="44" fill="#000"/>
<rect x="1190" y="380" width="1" height="50" fill="#000"/>
<rect x="1188.5" y="408.5" width="4" height="15" fill="#fff" stroke="#000" stroke-width="1"/>
<rect x="1198" y="386" width="1" height="70" fill="#000"/>
<rect x="1196" y="408" width="5" height="30" fill="#000"/>
<rect x="1206" y="432" width="1" height="4" fill="#000"/>
<rect x="1204" y="433" width="5" height="3" fill="#000"/>
<rect x="1214" y="426" width="1" height="58" fill="#000"/>
<rect x="1212" y="433" width="5" height="28" fill="#000"/>
<rect x="1222" y="428" width="1" height="28" fill="#000"/>
<rect x="1220.5" y="438.5" width="4" height="12" fill="#fff" stroke="#000" stroke-width="1"/>
<rect x="1230" y="434" width="1" height="78" fill="#000"/>
<rect x="1228" y="438" width="5" height="60" fill="#000"/>
<rect x="1238" y="482" width="1" height="58" fill="#000"/>
<rect x="1236" y="498" width="5" height="29" fill="#000"/>
<rect x="1246" y="490" width="1" height="53" fill="#000"/>
<rect x="1244.5" y="508.5" width="4" height="18" fill="#fff" stroke="#000" stroke-width="1"/>
<rect x="1254" y="504" width="1" height="5" fill="#000"/>
<rect x="1252" y="504" width="5" height="4" fill="#000"/>
<rect x="1262" y="501" width="1" height="61" fill="#000"/>
<rect x="1260" y="507" width="5" height="42" fill="#000"/>
<rect x="1270" y="506" width="1" height="62" fill="#000"/>
<rect x="1268.5" y="514.5" width="4" height="34" fill="#fff" stroke="#000" stroke-width="1"/>
<rect x="1278" y="486" width="1" height="58" fill="#000"/>
<rect x="1276.5" y="489.5" width="4" height="25" fill="#fff" stroke="#000" stroke-width="1"/>
<rect x="1286" y="452" width="1" height="56" fill="#000"/>
<rect x="1284.5" y="480.5" width="4" height="9" fill="#fff" stroke="#000" stroke-width="1"/>
</g>
<g shape-rendering="crispEdges">
<rect x="1204" y="453" width="110" height="15" fill="#00ff00"/>
<rect x="1463" y="459" width="10" height="1" fill="#ff0000"/><rect x="1470" y="458" width="3" height="3" fill="#fff" stroke="#ff0000" stroke-width="1"/>
<rect x="1473.5" y="444.5" width="99" height="32" fill="#ffffff" stroke="#ff0000" stroke-width="1"/>
</g>
<text x="1476" y="471" font-family="Liberation Sans, sans-serif" font-size="27.5" fill="#ff0000" textLength="95" lengthAdjust="spacingAndGlyphs">1.09898</text>
<g transform="translate(1,1)"><path d="M1406,370.5 L1392,379 M1402,374.5 L1416,374.5 L1403,383 M1400,376 L1405,379.5 M1406,383 L1391,386 M1403,386.5 L1418,386.5 L1410,393 L1391,398 M1394,391 L1408,385 M1401,389 L1405,393 M1434,369.5 L1440,373 M1425.5,374 L1425,379 M1425.5,374.5 L1451.5,374.5 L1449,378.5 M1435.5,377.5 L1425,384 M1440,377.5 L1450,382.5 M1425.5,384.8 L1448,384.8 M1437.8,385 L1437.8,396.8 M1423.5,396.8 L1452,396.8 M1456,375 L1468,375 M1463.5,371 L1457,382.5 L1468,381.5 M1463.5,378 L1463.5,398.5 M1456,391 L1469.5,388.5 M1470,376 L1484.5,376 M1470,381.8 L1485.5,381.8 M1477,370.5 L1473.5,386 L1484,386 L1478,393 M1471,390 L1481,397.5 M1489,377 L1501,377 M1496.4,370.5 L1496.4,396.8 L1492,395 M1489,386.8 L1501.8,382.6 M1516.4,370.5 L1504.3,373 L1504.3,388.4 L1498.5,398 M1504.3,381 L1518.5,381 M1511.8,381 L1511.8,398 M1536.6,369.5 L1536.6,380.6 M1537.3,374.8 L1549.5,374.8 M1528.8,380.6 L1545.2,380.6 L1545.2,388.5 L1528.8,388.5 Z M1528,392.5 L1524,397.5 M1532.7,392 L1535.4,397 M1538.9,392 L1542,397 M1545.2,392 L1549.8,397" fill="none" stroke="#101010" stroke-width="2.6" stroke-linecap="round"/></g>
<path d="M1406,370.5 L1392,379 M1402,374.5 L1416,374.5 L1403,383 M1400,376 L1405,379.5 M1406,383 L1391,386 M1403,386.5 L1418,386.5 L1410,393 L1391,398 M1394,391 L1408,385 M1401,389 L1405,393 M1434,369.5 L1440,373 M1425.5,374 L1425,379 M1425.5,374.5 L1451.5,374.5 L1449,378.5 M1435.5,377.5 L1425,384 M1440,377.5 L1450,382.5 M1425.5,384.8 L1448,384.8 M1437.8,385 L1437.8,396.8 M1423.5,396.8 L1452,396.8 M1456,375 L1468,375 M1463.5,371 L1457,382.5 L1468,381.5 M1463.5,378 L1463.5,398.5 M1456,391 L1469.5,388.5 M1470,376 L1484.5,376 M1470,381.8 L1485.5,381.8 M1477,370.5 L1473.5,386 L1484,386 L1478,393 M1471,390 L1481,397.5 M1489,377 L1501,377 M1496.4,370.5 L1496.4,396.8 L1492,395 M1489,386.8 L1501.8,382.6 M1516.4,370.5 L1504.3,373 L1504.3,388.4 L1498.5,398 M1504.3,381 L1518.5,381 M1511.8,381 L1511.8,398 M1536.6,369.5 L1536.6,380.6 M1537.3,374.8 L1549.5,374.8 M1528.8,380.6 L1545.2,380.6 L1545.2,388.5 L1528.8,388.5 Z M1528,392.5 L1524,397.5 M1532.7,392 L1535.4,397 M1538.9,392 L1542,397 M1545.2,392 L1549.8,397" fill="none" stroke="#00ff00" stroke-width="2.7" stroke-linecap="round"/>
</g>
<path d="M1294 29h9l-4.5 5z" fill="#c0c0c0"/>
<g shape-rendering="crispEdges">
<path d="M1 48h52v24h57v40h-109z" fill="url(#gbody)"/>
<rect x="1" y="48" width="52" height="24" fill="url(#gsell)"/>
<rect x="1" y="48" width="52" height="1" fill="#2020c0"/>
<rect x="5" y="72" width="44" height="1" fill="#7a7aff"/>
<path d="M168 48h52v64h-108v-40h56z" fill="url(#gbody)"/>
<rect x="168" y="48" width="52" height="24" fill="url(#gsell)"/>
<rect x="172" y="72" width="44" height="1" fill="#7a7aff"/>
<rect x="55.5" y="48.5" width="110" height="21" fill="#ffffff" stroke="#a8a8a8" stroke-width="1"/>
<rect x="56" y="49" width="20" height="20" fill="url(#gbtn)"/><rect x="76" y="49" width="1" height="20" fill="#b0b0b0"/>
<rect x="145" y="49" width="20" height="20" fill="url(#gbtn)"/><rect x="144" y="49" width="1" height="20" fill="#b0b0b0"/>
</g>
<path d="M62.5 57.5h6l-3 3.5z" fill="#111"/><path d="M151.5 61h6l-3-3.5z" fill="#111"/>
<text x="141" y="63" font-family="Liberation Sans, sans-serif" font-size="12" fill="#111" text-anchor="end">1.00</text>
<text x="13.8" y="64" font-family="Liberation Sans, sans-serif" font-size="12" fill="#ffffff" textLength="25.5" lengthAdjust="spacingAndGlyphs">SELL</text>
<text x="181.6" y="64" font-family="Liberation Sans, sans-serif" font-size="12" fill="#ffffff" textLength="23.5" lengthAdjust="spacingAndGlyphs">BUY</text>
<text x="22" y="103.5" font-family="Liberation Sans, sans-serif" font-size="12" font-weight="bold" fill="#ffffff">1.09</text>
<text x="49" y="103.5" font-family="Liberation Sans, sans-serif" font-size="33" fill="#ffffff">68</text>
<text x="88" y="87.5" font-family="Liberation Sans, sans-serif" font-size="12" font-weight="bold" fill="#ffffff">5</text>
<text x="131.5" y="103.5" font-family="Liberation Sans, sans-serif" font-size="12" font-weight="bold" fill="#ffffff">1.09</text>
<text x="159" y="103.5" font-family="Liberation Sans, sans-serif" font-size="33" fill="#ffffff">70</text>
<text x="199" y="87.5" font-family="Liberation Sans, sans-serif" font-size="12" font-weight="bold" fill="#ffffff">5</text>
<path d="M1 39h7l-3.5-4z" fill="#000"/>
<text x="13.5" y="40" font-family="Liberation Sans, sans-serif" font-size="9.2" fill="#000" color="#000">EURUSD-,Daily&#160; 1.09591 1.09984 1.09402 1.09685</text>
<g shape-rendering="crispEdges">
<rect x="1627" y="50" width="2" height="1" fill="#000"/>
<rect x="1627" y="84" width="2" height="1" fill="#000"/>
<rect x="1627" y="116" width="2" height="1" fill="#000"/>
<rect x="1627" y="150" width="2" height="1" fill="#000"/>
<rect x="1627" y="182" width="2" height="1" fill="#000"/>
<rect x="1627" y="215" width="2" height="1" fill="#000"/>
<rect x="1627" y="249" width="2" height="1" fill="#000"/>
<rect x="1627" y="281" width="2" height="1" fill="#000"/>
<rect x="1627" y="314" width="2" height="1" fill="#000"/>
<rect x="1627" y="348" width="2" height="1" fill="#000"/>
<rect x="1627" y="380" width="2" height="1" fill="#000"/>
<rect x="1627" y="446" width="2" height="1" fill="#000"/>
<rect x="1627" y="545" width="2" height="1" fill="#000"/>
<rect x="1627" y="578" width="2" height="1" fill="#000"/>
</g>
<text x="1632" y="54" font-family="Liberation Sans, sans-serif" font-size="9.2" fill="#000" color="#000" textLength="32" lengthAdjust="spacingAndGlyphs">1.14170</text>
<text x="1632" y="88" font-family="Liberation Sans, sans-serif" font-size="9.2" fill="#000" color="#000" textLength="32" lengthAdjust="spacingAndGlyphs">1.13820</text>
<text x="1632" y="120" font-family="Liberation Sans, sans-serif" font-size="9.2" fill="#000" color="#000" textLength="32" lengthAdjust="spacingAndGlyphs">1.13480</text>
<text x="1632" y="154" font-family="Liberation Sans, sans-serif" font-size="9.2" fill="#000" color="#000" textLength="32" lengthAdjust="spacingAndGlyphs">1.13130</text>
<text x="1632" y="186" font-family="Liberation Sans, sans-serif" font-size="9.2" fill="#000" color="#000" textLength="32" lengthAdjust="spacingAndGlyphs">1.12790</text>
<text x="1632" y="219" font-family="Liberation Sans, sans-serif" font-size="9.2" fill="#000" color="#000" textLength="32" lengthAdjust="spacingAndGlyphs">1.12450</text>
<text x="1632" y="253" font-family="Liberation Sans, sans-serif" font-size="9.2" fill="#000" color="#000" textLength="32" lengthAdjust="spacingAndGlyphs">1.12100</text>
<text x="1632" y="285" font-family="Liberation Sans, sans-serif" font-size="9.2" fill="#000" color="#000" textLength="32" lengthAdjust="spacingAndGlyphs">1.11760</text>
<text x="1632" y="318" font-family="Liberation Sans, sans-serif" font-size="9.2" fill="#000" color="#000" textLength="32" lengthAdjust="spacingAndGlyphs">1.11420</text>
<text x="1632" y="352" font-family="Liberation Sans, sans-serif" font-size="9.2" fill="#000" color="#000" textLength="32" lengthAdjust="spacingAndGlyphs">1.11070</text>
<text x="1632" y="384" font-family="Liberation Sans, sans-serif" font-size="9.2" fill="#000" color="#000" textLength="32" lengthAdjust="spacingAndGlyphs">1.10730</text>
<text x="1632" y="450" font-family="Liberation Sans, sans-serif" font-size="9.2" fill="#000" color="#000" textLength="32" lengthAdjust="spacingAndGlyphs">1.10040</text>
<text x="1632" y="549" font-family="Liberation Sans, sans-serif" font-size="9.2" fill="#000" color="#000" textLength="32" lengthAdjust="spacingAndGlyphs">1.09010</text>
<text x="1632" y="582" font-family="Liberation Sans, sans-serif" font-size="9.2" fill="#000" color="#000" textLength="32" lengthAdjust="spacingAndGlyphs">1.08670</text>
<g shape-rendering="crispEdges">
<rect x="1628" y="408" width="41" height="11" fill="#ff0000"/>
<rect x="1628" y="432" width="41" height="11" fill="#ff0000"/>
<rect x="1628" y="454" width="41" height="11" fill="#00ff00"/>
<rect x="1628" y="475" width="41" height="11" fill="#000000"/>
<rect x="1628" y="505" width="41" height="11" fill="#0000ff"/>
<rect x="1628" y="531" width="41" height="11" fill="#0000ff"/>
</g>
<text x="1632" y="417" font-family="Liberation Sans, sans-serif" font-size="9.2" fill="#fff" color="#fff" textLength="32" lengthAdjust="spacingAndGlyphs">1.10377</text>
<text x="1632" y="441" font-family="Liberation Sans, sans-serif" font-size="9.2" fill="#fff" color="#fff" textLength="32" lengthAdjust="spacingAndGlyphs">1.10127</text>
<text x="1632" y="463" font-family="Liberation Sans, sans-serif" font-size="9.2" fill="#fff" color="#fff" textLength="32" lengthAdjust="spacingAndGlyphs">1.09898</text>
<text x="1632" y="484" font-family="Liberation Sans, sans-serif" font-size="9.2" fill="#fff" color="#fff" textLength="32" lengthAdjust="spacingAndGlyphs">1.09685</text>
<text x="1632" y="514" font-family="Liberation Sans, sans-serif" font-size="9.2" fill="#fff" color="#fff" textLength="32" lengthAdjust="spacingAndGlyphs">1.09368</text>
<text x="1632" y="540" font-family="Liberation Sans, sans-serif" font-size="9.2" fill="#fff" color="#fff" textLength="32" lengthAdjust="spacingAndGlyphs">1.09098</text>
<g clip-path="url(#cd)">
<g shape-rendering="crispEdges">
<rect x="6" y="669" width="1" height="38" fill="#c0c0c0"/>
<rect x="14" y="669" width="1" height="44" fill="#c0c0c0"/>
<rect x="22" y="669" width="1" height="51" fill="#c0c0c0"/>
<rect x="30" y="669" width="1" height="56" fill="#c0c0c0"/>
<rect x="38" y="669" width="1" height="54" fill="#c0c0c0"/>
<rect x="46" y="669" width="1" height="54" fill="#c0c0c0"/>
<rect x="54" y="669" width="1" height="54" fill="#c0c0c0"/>
<rect x="62" y="669" width="1" height="54" fill="#c0c0c0"/>
<rect x="70" y="669" width="1" height="47" fill="#c0c0c0"/>
<rect x="78" y="669" width="1" height="40" fill="#c0c0c0"/>
<rect x="86" y="669" width="1" height="32" fill="#c0c0c0"/>
<rect x="94" y="669" width="1" height="28" fill="#c0c0c0"/>
<rect x="102" y="669" width="1" height="20" fill="#c0c0c0"/>
<rect x="110" y="669" width="1" height="11" fill="#c0c0c0"/>
<rect x="118" y="669" width="1" height="5" fill="#c0c0c0"/>
<rect x="126" y="669" width="1" height="3" fill="#c0c0c0"/>
<rect x="142" y="669" width="1" height="7" fill="#c0c0c0"/>
<rect x="150" y="669" width="1" height="9" fill="#c0c0c0"/>
<rect x="158" y="669" width="1" height="9" fill="#c0c0c0"/>
<rect x="166" y="669" width="1" height="15" fill="#c0c0c0"/>
<rect x="174" y="669" width="1" height="29" fill="#c0c0c0"/>
<rect x="182" y="669" width="1" height="43" fill="#c0c0c0"/>
<rect x="190" y="669" width="1" height="50" fill="#c0c0c0"/>
<rect x="198" y="669" width="1" height="56" fill="#c0c0c0"/>
<rect x="206" y="669" width="1" height="55" fill="#c0c0c0"/>
<rect x="214" y="669" width="1" height="48" fill="#c0c0c0"/>
<rect x="222" y="669" width="1" height="45" fill="#c0c0c0"/>
<rect x="230" y="669" width="1" height="45" fill="#c0c0c0"/>
<rect x="238" y="669" width="1" height="43" fill="#c0c0c0"/>
<rect x="246" y="669" width="1" height="42" fill="#c0c0c0"/>
<rect x="254" y="669" width="1" height="38" fill="#c0c0c0"/>
<rect x="262" y="669" width="1" height="36" fill="#c0c0c0"/>
<rect x="270" y="669" width="1" height="33" fill="#c0c0c0"/>
<rect x="278" y="669" width="1" height="27" fill="#c0c0c0"/>
<rect x="286" y="669" width="1" height="20" fill="#c0c0c0"/>
<rect x="294" y="669" width="1" height="14" fill="#c0c0c0"/>
<rect x="302" y="669" width="1" height="10" fill="#c0c0c0"/>
<rect x="310" y="669" width="1" height="10" fill="#c0c0c0"/>
<rect x="318" y="669" width="1" height="10" fill="#c0c0c0"/>
<rect x="326" y="669" width="1" height="15" fill="#c0c0c0"/>
<rect x="334" y="669" width="1" height="20" fill="#c0c0c0"/>
<rect x="342" y="669" width="1" height="25" fill="#c0c0c0"/>
<rect x="350" y="669" width="1" height="27" fill="#c0c0c0"/>
<rect x="358" y="669" width="1" height="28" fill="#c0c0c0"/>
<rect x="366" y="669" width="1" height="30" fill="#c0c0c0"/>
<rect x="374" y="669" width="1" height="28" fill="#c0c0c0"/>
<rect x="382" y="669" width="1" height="20" fill="#c0c0c0"/>
<rect x="390" y="669" width="1" height="17" fill="#c0c0c0"/>
<rect x="398" y="669" width="1" height="15" fill="#c0c0c0"/>
<rect x="406" y="669" width="1" height="17" fill="#c0c0c0"/>
<rect x="414" y="669" width="1" height="23" fill="#c0c0c0"/>
<rect x="422" y="669" width="1" height="28" fill="#c0c0c0"/>
<rect x="430" y="669" width="1" height="26" fill="#c0c0c0"/>
<rect x="438" y="669" width="1" height="24" fill="#c0c0c0"/>
<rect x="446" y="669" width="1" height="11" fill="#c0c0c0"/>
<rect x="462" y="665" width="1" height="4" fill="#c0c0c0"/>
<rect x="470" y="654" width="1" height="15" fill="#c0c0c0"/>
<rect x="478" y="636" width="1" height="33" fill="#c0c0c0"/>
<rect x="486" y="625" width="1" height="44" fill="#c0c0c0"/>
<rect x="494" y="618" width="1" height="51" fill="#c0c0c0"/>
<rect x="502" y="610" width="1" height="59" fill="#c0c0c0"/>
<rect x="510" y="611" width="1" height="58" fill="#c0c0c0"/>
<rect x="518" y="614" width="1" height="55" fill="#c0c0c0"/>
<rect x="526" y="628" width="1" height="41" fill="#c0c0c0"/>
<rect x="534" y="638" width="1" height="31" fill="#c0c0c0"/>
<rect x="542" y="645" width="1" height="24" fill="#c0c0c0"/>
<rect x="550" y="655" width="1" height="14" fill="#c0c0c0"/>
<rect x="558" y="657" width="1" height="12" fill="#c0c0c0"/>
<rect x="566" y="650" width="1" height="19" fill="#c0c0c0"/>
<rect x="574" y="633" width="1" height="36" fill="#c0c0c0"/>
<rect x="582" y="619" width="1" height="50" fill="#c0c0c0"/>
<rect x="590" y="606" width="1" height="63" fill="#c0c0c0"/>
<rect x="598" y="601" width="1" height="68" fill="#c0c0c0"/>
<rect x="606" y="597" width="1" height="72" fill="#c0c0c0"/>
<rect x="614" y="595" width="1" height="74" fill="#c0c0c0"/>
<rect x="622" y="594" width="1" height="75" fill="#c0c0c0"/>
<rect x="630" y="596" width="1" height="73" fill="#c0c0c0"/>
<rect x="638" y="609" width="1" height="60" fill="#c0c0c0"/>
<rect x="646" y="620" width="1" height="49" fill="#c0c0c0"/>
<rect x="654" y="630" width="1" height="39" fill="#c0c0c0"/>
<rect x="662" y="638" width="1" height="31" fill="#c0c0c0"/>
<rect x="670" y="654" width="1" height="15" fill="#c0c0c0"/>
<rect x="678" y="666" width="1" height="3" fill="#c0c0c0"/>
<rect x="686" y="669" width="1" height="7" fill="#c0c0c0"/>
<rect x="694" y="669" width="1" height="18" fill="#c0c0c0"/>
<rect x="702" y="669" width="1" height="17" fill="#c0c0c0"/>
<rect x="710" y="669" width="1" height="18" fill="#c0c0c0"/>
<rect x="718" y="669" width="1" height="16" fill="#c0c0c0"/>
<rect x="726" y="669" width="1" height="14" fill="#c0c0c0"/>
<rect x="734" y="669" width="1" height="13" fill="#c0c0c0"/>
<rect x="742" y="669" width="1" height="20" fill="#c0c0c0"/>
<rect x="750" y="669" width="1" height="23" fill="#c0c0c0"/>
<rect x="758" y="669" width="1" height="20" fill="#c0c0c0"/>
<rect x="766" y="669" width="1" height="23" fill="#c0c0c0"/>
<rect x="774" y="669" width="1" height="26" fill="#c0c0c0"/>
<rect x="782" y="669" width="1" height="30" fill="#c0c0c0"/>
<rect x="790" y="669" width="1" height="41" fill="#c0c0c0"/>
<rect x="798" y="669" width="1" height="50" fill="#c0c0c0"/>
<rect x="806" y="669" width="1" height="55" fill="#c0c0c0"/>
<rect x="814" y="669" width="1" height="63" fill="#c0c0c0"/>
<rect x="822" y="669" width="1" height="67" fill="#c0c0c0"/>
<rect x="830" y="669" width="1" height="68" fill="#c0c0c0"/>
<rect x="838" y="669" width="1" height="65" fill="#c0c0c0"/>
<rect x="846" y="669" width="1" height="75" fill="#c0c0c0"/>
<rect x="854" y="669" width="1" height="81" fill="#c0c0c0"/>
<rect x="862" y="669" width="1" height="80" fill="#c0c0c0"/>
<rect x="870" y="669" width="1" height="79" fill="#c0c0c0"/>
<rect x="878" y="669" width="1" height="56" fill="#c0c0c0"/>
<rect x="886" y="669" width="1" height="44" fill="#c0c0c0"/>
<rect x="894" y="669" width="1" height="34" fill="#c0c0c0"/>
<rect x="902" y="669" width="1" height="28" fill="#c0c0c0"/>
<rect x="910" y="669" width="1" height="21" fill="#c0c0c0"/>
<rect x="918" y="669" width="1" height="14" fill="#c0c0c0"/>
<rect x="926" y="669" width="1" height="9" fill="#c0c0c0"/>
<rect x="934" y="669" width="1" height="9" fill="#c0c0c0"/>
<rect x="942" y="669" width="1" height="15" fill="#c0c0c0"/>
<rect x="950" y="669" width="1" height="24" fill="#c0c0c0"/>
<rect x="958" y="669" width="1" height="31" fill="#c0c0c0"/>
<rect x="966" y="669" width="1" height="39" fill="#c0c0c0"/>
<rect x="974" y="669" width="1" height="46" fill="#c0c0c0"/>
<rect x="982" y="669" width="1" height="49" fill="#c0c0c0"/>
<rect x="990" y="669" width="1" height="51" fill="#c0c0c0"/>
<rect x="998" y="669" width="1" height="53" fill="#c0c0c0"/>
<rect x="1006" y="669" width="1" height="45" fill="#c0c0c0"/>
<rect x="1014" y="669" width="1" height="38" fill="#c0c0c0"/>
<rect x="1022" y="669" width="1" height="38" fill="#c0c0c0"/>
<rect x="1030" y="669" width="1" height="41" fill="#c0c0c0"/>
<rect x="1038" y="669" width="1" height="43" fill="#c0c0c0"/>
<rect x="1046" y="669" width="1" height="48" fill="#c0c0c0"/>
<rect x="1054" y="669" width="1" height="62" fill="#c0c0c0"/>
<rect x="1062" y="669" width="1" height="72" fill="#c0c0c0"/>
<rect x="1070" y="669" width="1" height="82" fill="#c0c0c0"/>
<rect x="1078" y="669" width="1" height="87" fill="#c0c0c0"/>
<rect x="1086" y="669" width="1" height="83" fill="#c0c0c0"/>
<rect x="1094" y="669" width="1" height="77" fill="#c0c0c0"/>
<rect x="1102" y="669" width="1" height="67" fill="#c0c0c0"/>
<rect x="1110" y="669" width="1" height="70" fill="#c0c0c0"/>
<rect x="1118" y="669" width="1" height="62" fill="#c0c0c0"/>
<rect x="1126" y="669" width="1" height="56" fill="#c0c0c0"/>
<rect x="1134" y="669" width="1" height="56" fill="#c0c0c0"/>
<rect x="1142" y="669" width="1" height="49" fill="#c0c0c0"/>
<rect x="1150" y="669" width="1" height="41" fill="#c0c0c0"/>
<rect x="1158" y="669" width="1" height="31" fill="#c0c0c0"/>
<rect x="1166" y="669" width="1" height="35" fill="#c0c0c0"/>
<rect x="1174" y="669" width="1" height="28" fill="#c0c0c0"/>
<rect x="1182" y="669" width="1" height="28" fill="#c0c0c0"/>
<rect x="1190" y="669" width="1" height="26" fill="#c0c0c0"/>
<rect x="1198" y="669" width="1" height="28" fill="#c0c0c0"/>
<rect x="1206" y="669" width="1" height="29" fill="#c0c0c0"/>
<rect x="1214" y="669" width="1" height="33" fill="#c0c0c0"/>
<rect x="1222" y="669" width="1" height="33" fill="#c0c0c0"/>
<rect x="1230" y="669" width="1" height="43" fill="#c0c0c0"/>
<rect x="1238" y="669" width="1" height="54" fill="#c0c0c0"/>
<rect x="1246" y="669" width="1" height="58" fill="#c0c0c0"/>
<rect x="1254" y="669" width="1" height="61" fill="#c0c0c0"/>
<rect x="1262" y="669" width="1" height="70" fill="#c0c0c0"/>
<rect x="1270" y="669" width="1" height="70" fill="#c0c0c0"/>
<rect x="1278" y="669" width="1" height="66" fill="#c0c0c0"/>
<rect x="1286" y="669" width="1" height="59" fill="#c0c0c0"/>
</g>
<polyline points="0,676.5 12,682.5 24,692.5 36,701.5 48,710.5 60,717.5 70,720.5 82,719.5 94,715.5 106,710.5 120,701.5 132,693.5 144,685.5 156,680.5 166,678.5 176,679.5 190,688.5 202,697.5 217,706.5 231,714.5 241,717.5 253,717.5 265,714.5 281,708.5 297,701.5 313,694.5 330,689.5 350,686.5 360,687.5 366,690.5 380,692.5 400,693.5 420,693.5 438,691.5 450,688.5 460,685.5 472,679.5 486,668.5 500,652.5 513,638.5 527,628.5 541,624.5 551,626.5 561,631.5 573,636.5 585,637.5 597,634.5 607,628.5 617,623.5 629,611.5 641,604.5 650,603.5 656,605.5 666,611.5 674,617.5 682,624.5 690,635.5 700,645.5 710,657.5 720,668.5 730,676.5 740,681.5 752,685.5 764,687.5 776,689.5 788,691.5 797,694.5 805,700.5 817,707.5 827,714.5 841,722.5 851,729.5 861,736.5 871,740.5 883,739.5 895,734.5 907,727.5 917,720.5 929,708.5 941,697.5 951,691.5 961,690.5 970,691.5 972,692.5 978,693.5 989,699.5 997,703.5 1007,709.5 1015,712.5 1031,714.5 1045,715.5 1056,716.5 1066,720.5 1076,724.5 1086,731.5 1098,738.5 1108,743.5 1119,744.5 1133,742.5 1141,740.5 1151,731.5 1163,724.5 1175,717.5 1188,711.5 1200,706.5 1212,702.5 1222,701.5 1230,703.5 1239,704.5 1249,709.5 1259,713.5 1271,720.5 1279,724.5 1286,726.5" fill="none" stroke="#ff0000" stroke-width="1" stroke-dasharray="3 2" shape-rendering="crispEdges"/>
</g>
<text x="2" y="596" font-family="Liberation Sans, sans-serif" font-size="9.2" fill="#000" color="#000">MACD(12,26,9) -0.003241 -0.003099</text>
<g shape-rendering="crispEdges"><rect x="1627" y="585" width="2" height="1" fill="#000"/><rect x="1627" y="669" width="2" height="1" fill="#000"/><rect x="1627" y="765" width="2" height="1" fill="#000"/></g>
<text x="1629.5" y="594" font-family="Liberation Sans, sans-serif" font-size="9.2" fill="#000" color="#000">0.004536</text>
<text x="1630" y="673" font-family="Liberation Sans, sans-serif" font-size="9.2" fill="#000" color="#000">0.00</text>
<text x="1630" y="763" font-family="Liberation Sans, sans-serif" font-size="9.2" fill="#000" color="#000">-0.005205</text>
<g clip-path="url(#cr)">
<g shape-rendering="crispEdges">
<line x1="0" y1="801.5" x2="1626" y2="801.5" stroke="#c0c0c0" stroke-width="1" stroke-dasharray="3 3"/>
<line x1="0" y1="848.5" x2="1626" y2="848.5" stroke="#c0c0c0" stroke-width="1" stroke-dasharray="3 3"/>
<line x1="0" y1="904.5" x2="1626" y2="904.5" stroke="#c0c0c0" stroke-width="1" stroke-dasharray="3 3"/>
</g>
<polyline points="0,866.5 7,868.5 15,866.5 22,868.5 30,869.5 38,857.5 46,862.5 52,863.5 62,863.5 71,852.5 79,850.5 87,847.5 95,851.5 103,842.5 108,840.5 118,840.5 126,846.5 134,842.5 142,861.5 150,856.5 158,852.5 167,861.5 175,873.5 182,876.5 189,871.5 197,872.5 205,863.5 215,852.5 222,855.5 231,862.5 239,856.5 247,858.5 254,854.5 262,856.5 270,855.5 278,849.5 285,845.5 292,843.5 302,845.5 310,853.5 318,852.5 325,862.5 330,863.5 334,866.5 342,864.5 350,863.5 358,864.5 366,867.5 374,854.5 382,845.5 390,846.5 397,849.5 405,857.5 413,867.5 422,870.5 430,853.5 438,853.5 446,833.5 454,831.5 462,839.5 471,829.5 479,819.5 487,824.5 494,825.5 502,824.5 510,834.5 518,838.5 527,856.5 534,854.5 542,853.5 550,857.5 559,847.5 567,837.5 574,826.5 582,823.5 590,821.5 598,830.5 604,829.5 612,830.5 621,829.5 630,833.5 638,851.5 645,850.5 650,850.5 654,852.5 663,852.5 671,866.5 679,865.5 686,866.5 694,868.5 702,853.5 710,856.5 718,849.5 727,849.5 735,853.5 743,863.5 751,859.5 758,849.5 766,859.5 774,859.5 782,863.5 790,872.5 798,874.5 806,873.5 814,876.5 822,875.5 829,870.5 838,866.5 846,881.5 854,878.5 862,868.5 871,868.5 878,838.5 887,844.5 894,846.5 902,849.5 910,844.5 918,844.5 926,842.5 934,852.5 942,858.5 950,865.5 958,868.5 965,868.5 970,869.5 974,871.5 982,865.5 991,867.5 999,869.5 1007,849.5 1014,850.5 1022,860.5 1030,862.5 1038,863.5 1046,870.5 1055,882.5 1063,878.5 1071,882.5 1079,879.5 1086,861.5 1098,861.5 1110,864.5 1119,856.5 1127,855.5 1135,863.5 1143,852.5 1150,848.5 1158,844.5 1166,862.5 1174,848.5 1183,855.5 1191,852.5 1199,858.5 1206,857.5 1214,861.5 1222,857.5 1230,867.5 1239,871.5 1247,868.5 1255,867.5 1263,873.5 1271,863.5 1279,857.5 1286,855.5" fill="none" stroke="#1e90ff" stroke-width="1" shape-rendering="crispEdges"/>
</g>
<text x="2" y="781" font-family="Liberation Sans, sans-serif" font-size="9.2" fill="#000" color="#000">RSI(14) 45.6107</text>
<g shape-rendering="crispEdges">
<rect x="1627" y="770" width="2" height="1" fill="#000"/>
<rect x="1627" y="801" width="2" height="1" fill="#000"/>
<rect x="1627" y="848" width="2" height="1" fill="#000"/>
<rect x="1627" y="904" width="2" height="1" fill="#000"/>
</g>
<text x="1630" y="779.5" font-family="Liberation Sans, sans-serif" font-size="9.2" fill="#000" color="#000">100</text>
<text x="1630" y="805" font-family="Liberation Sans, sans-serif" font-size="9.2" fill="#000" color="#000">80</text>
<text x="1630" y="852" font-family="Liberation Sans, sans-serif" font-size="9.2" fill="#000" color="#000">50</text>
<text x="1630" y="908" font-family="Liberation Sans, sans-serif" font-size="9.2" fill="#000" color="#000">15</text>
<text x="1630" y="925" font-family="Liberation Sans, sans-serif" font-size="9.2" fill="#000" color="#000">0</text>
<g shape-rendering="crispEdges">
<rect x="62" y="929" width="1" height="3" fill="#000"/>
<rect x="126" y="929" width="1" height="3" fill="#000"/>
<rect x="190" y="929" width="1" height="3" fill="#000"/>
<rect x="254" y="929" width="1" height="3" fill="#000"/>
<rect x="318" y="929" width="1" height="3" fill="#000"/>
<rect x="382" y="929" width="1" height="3" fill="#000"/>
<rect x="446" y="929" width="1" height="3" fill="#000"/>
<rect x="510" y="929" width="1" height="3" fill="#000"/>
<rect x="574" y="929" width="1" height="3" fill="#000"/>
<rect x="638" y="929" width="1" height="3" fill="#000"/>
<rect x="702" y="929" width="1" height="3" fill="#000"/>
<rect x="766" y="929" width="1" height="3" fill="#000"/>
<rect x="830" y="929" width="1" height="3" fill="#000"/>
<rect x="894" y="929" width="1" height="3" fill="#000"/>
<rect x="958" y="929" width="1" height="3" fill="#000"/>
<rect x="1022" y="929" width="1" height="3" fill="#000"/>
<rect x="1086" y="929" width="1" height="3" fill="#000"/>
<rect x="1150" y="929" width="1" height="3" fill="#000"/>
<rect x="1214" y="929" width="1" height="3" fill="#000"/>
<rect x="1278" y="929" width="1" height="3" fill="#000"/>
</g>
<text x="-2.8" y="941" font-family="Liberation Sans, sans-serif" font-size="9.2" fill="#000" color="#000">28 Mar 2019</text>
<text x="61.2" y="941" font-family="Liberation Sans, sans-serif" font-size="9.2" fill="#000" color="#000">7 Apr 2019</text>
<text x="125.2" y="941" font-family="Liberation Sans, sans-serif" font-size="9.2" fill="#000" color="#000">16 Apr 2019</text>
<text x="189.2" y="941" font-family="Liberation Sans, sans-serif" font-size="9.2" fill="#000" color="#000">26 Apr 2019</text>
<text x="253.2" y="941" font-family="Liberation Sans, sans-serif" font-size="9.2" fill="#000" color="#000">6 May 2019</text>
<text x="317.2" y="941" font-family="Liberation Sans, sans-serif" font-size="9.2" fill="#000" color="#000">15 May 2019</text>
<text x="381.2" y="941" font-family="Liberation Sans, sans-serif" font-size="9.2" fill="#000" color="#000">24 May 2019</text>
<text x="445.2" y="941" font-family="Liberation Sans, sans-serif" font-size="9.2" fill="#000" color="#000">3 Jun 2019</text>
<text x="509.2" y="941" font-family="Liberation Sans, sans-serif" font-size="9.2" fill="#000" color="#000">12 Jun 2019</text>
<text x="573.2" y="941" font-family="Liberation Sans, sans-serif" font-size="9.2" fill="#000" color="#000">21 Jun 2019</text>
<text x="637.2" y="941" font-family="Liberation Sans, sans-serif" font-size="9.2" fill="#000" color="#000">1 Jul 2019</text>
<text x="701.2" y="941" font-family="Liberation Sans, sans-serif" font-size="9.2" fill="#000" color="#000">10 Jul 2019</text>
<text x="765.2" y="941" font-family="Liberation Sans, sans-serif" font-size="9.2" fill="#000" color="#000">19 Jul 2019</text>
<text x="829.2" y="941" font-family="Liberation Sans, sans-serif" font-size="9.2" fill="#000" color="#000">29 Jul 2019</text>
<text x="893.2" y="941" font-family="Liberation Sans, sans-serif" font-size="9.2" fill="#000" color="#000">7 Aug 2019</text>
<text x="957.2" y="941" font-family="Liberation Sans, sans-serif" font-size="9.2" fill="#000" color="#000">16 Aug 2019</text>
<text x="1021.2" y="941" font-family="Liberation Sans, sans-serif" font-size="9.2" fill="#000" color="#000">26 Aug 2019</text>
<text x="1085.2" y="941" font-family="Liberation Sans, sans-serif" font-size="9.2" fill="#000" color="#000">4 Sep 2019</text>
<text x="1149.2" y="941" font-family="Liberation Sans, sans-serif" font-size="9.2" fill="#000" color="#000">13 Sep 2019</text>
<text x="1213.2" y="941" font-family="Liberation Sans, sans-serif" font-size="9.2" fill="#000" color="#000">23 Sep 2019</text>
<text x="1277.2" y="941" font-family="Liberation Sans, sans-serif" font-size="9.2" fill="#000" color="#000">2 Oct 2019</text>
</svg></body></html>
